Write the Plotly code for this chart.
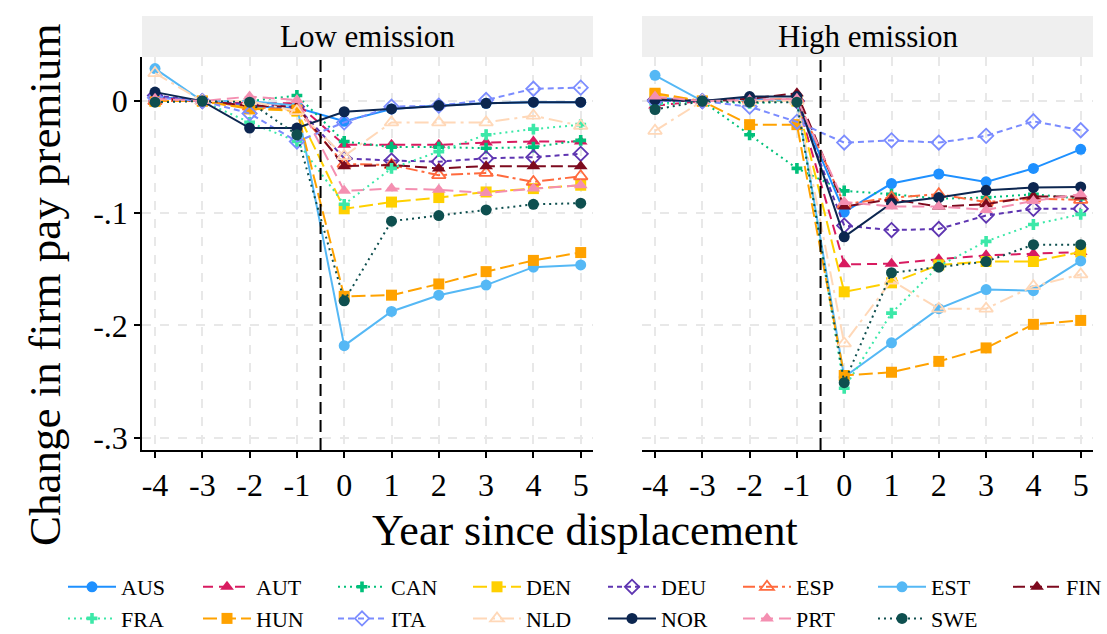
import plotly.graph_objects as go

# Event time (years since displacement)
years = [-4, -3, -2, -1, 0, 1, 2, 3, 4, 5]

countries = ["AUS", "AUT", "CAN", "DEN", "DEU", "ESP", "EST", "FIN",
             "FRA", "HUN", "ITA", "NLD", "NOR", "PRT", "SWE"]

# Change in firm pay premium, low-emission firms
low_AUS = [0.004, 0, -0.005, -0.006, -0.018, -0.007, -0.004, -0.002, -0.001, -0.001]
low_AUT = [0.003, 0, -0.002, -0.002, -0.039, -0.039, -0.039, -0.037, -0.036, -0.036]
low_CAN = [0.000, 0, 0.000, 0.005, -0.036, -0.041, -0.041, -0.042, -0.041, -0.035]
low_DEN = [0.000, 0, -0.006, -0.009, -0.096, -0.090, -0.086, -0.081, -0.078, -0.075]
low_DEU = [0.005, 0, -0.003, -0.005, -0.051, -0.053, -0.054, -0.051, -0.050, -0.047]
low_ESP = [0.000, 0, -0.005, -0.008, -0.056, -0.057, -0.066, -0.064, -0.072, -0.067]
low_EST = [0.029, 0, 0.000, -0.004, -0.218, -0.1875, -0.173, -0.164, -0.148, -0.146]
low_FIN = [0.002, 0, -0.004, -0.005, -0.058, -0.057, -0.060, -0.058, -0.058, -0.058]
low_FRA = [0.000, 0, -0.019, -0.036, -0.092, -0.060, -0.045, -0.030, -0.025, -0.021]
low_HUN = [0.000, 0, -0.007, -0.008, -0.174, -0.173, -0.163, -0.152, -0.142, -0.135]
low_ITA = [0.003, 0, -0.011, -0.036, -0.019, -0.005, -0.004, 0.001, 0.011, 0.012]
low_NLD = [0.025, 0, 0.000, -0.009, -0.049, -0.019, -0.019, -0.019, -0.013, -0.022]
low_NOR = [0.008, 0, -0.024, -0.024, -0.0095, -0.007, -0.004, -0.002, -0.001, -0.001]
low_PRT = [0.002, 0, 0.004, 0.001, -0.080, -0.078, -0.079, -0.082, -0.078, -0.075]
low_SWE = [-0.001, 0, -0.001, -0.030, -0.178, -0.107, -0.102, -0.097, -0.092, -0.091]

# Change in firm pay premium, high-emission firms
high_AUS = [0.003, 0, 0.002, 0.000, -0.099, -0.0735, -0.065, -0.072, -0.060, -0.043]
high_AUT = [-0.004, 0, 0.000, 0.001, -0.1455, -0.145, -0.141, -0.1375, -0.136, -0.1345]
high_CAN = [-0.002, 0, -0.030, -0.060, -0.080, -0.083, -0.087, -0.086, -0.083, -0.087]
high_DEN = [0.006, 0, 0.000, 0.000, -0.170, -0.162, -0.146, -0.143, -0.143, -0.1345]
high_DEU = [0.001, 0, 0.001, 0.000, -0.111, -0.115, -0.114, -0.102, -0.096, -0.096]
high_ESP = [0.002, 0, 0.001, 0.002, -0.092, -0.086, -0.083, -0.090, -0.087, -0.088]
high_EST = [0.023, 0, 0.001, 0.000, -0.246, -0.2155, -0.185, -0.168, -0.169, -0.1425]
high_FIN = [0.001, 0, 0.002, 0.007, -0.094, -0.0875, -0.094, -0.092, -0.085, -0.085]
high_FRA = [-0.003, 0, -0.002, 0.000, -0.256, -0.189, -0.147, -0.125, -0.110, -0.101]
high_HUN = [0.007, 0, -0.021, -0.021, -0.2446, -0.2417, -0.232, -0.220, -0.199, -0.1955]
high_ITA = [0.000, 0, -0.005, -0.0185, -0.037, -0.035, -0.037, -0.031, -0.018, -0.026]
high_NLD = [-0.0265, 0, 0.000, 0.000, -0.216, -0.160, -0.185, -0.185, -0.165, -0.1545]
high_NOR = [0.001, 0, 0.004, 0.004, -0.121, -0.091, -0.086, -0.0795, -0.077, -0.0765]
high_PRT = [0.004, 0, 0.001, 0.002, -0.090, -0.094, -0.094, -0.097, -0.089, -0.083]
high_SWE = [-0.0075, 0, -0.001, -0.001, -0.251, -0.153, -0.148, -0.143, -0.128, -0.128]

low = {"AUS": low_AUS, "AUT": low_AUT, "CAN": low_CAN, "DEN": low_DEN, "DEU": low_DEU,
       "ESP": low_ESP, "EST": low_EST, "FIN": low_FIN, "FRA": low_FRA, "HUN": low_HUN,
       "ITA": low_ITA, "NLD": low_NLD, "NOR": low_NOR, "PRT": low_PRT, "SWE": low_SWE}
high = {"AUS": high_AUS, "AUT": high_AUT, "CAN": high_CAN, "DEN": high_DEN, "DEU": high_DEU,
        "ESP": high_ESP, "EST": high_EST, "FIN": high_FIN, "FRA": high_FRA, "HUN": high_HUN,
        "ITA": high_ITA, "NLD": high_NLD, "NOR": high_NOR, "PRT": high_PRT, "SWE": high_SWE}

# Per-country styling: colour, dash pattern, marker symbol
style = {
    "AUS": ("#1E90FF", "solid", "circle"),
    "AUT": ("#D81B60", "10px,6px", "triangle-up"),
    "CAN": ("#00C07A", "2px,4px", "cross"),
    "DEN": ("#FFD000", "14px,5px", "square"),
    "DEU": ("#5E35B1", "5px,4px", "diamond-open"),
    "ESP": ("#FF6A3D", "12px,4px,3px,4px", "triangle-up-open"),
    "EST": ("#55B8F5", "solid", "circle"),
    "FIN": ("#7D0A1E", "12px,5px", "triangle-up"),
    "FRA": ("#3CE8A8", "2px,4px", "cross"),
    "HUN": ("#FFA200", "14px,5px", "square"),
    "ITA": ("#7B8CFF", "6px,4px", "diamond-open"),
    "NLD": ("#FFD8B8", "14px,5px,3px,5px", "triangle-up-open"),
    "NOR": ("#0C2650", "solid", "circle"),
    "PRT": ("#F48FB1", "12px,6px", "triangle-up"),
    "SWE": ("#0E4F4F", "2px,4px", "circle"),
}

FONT = "Liberation Serif"
W, H = 1107, 634
fig = go.Figure()

for panel, data, xa, ya in [("low", low, "x", "y"), ("high", high, "x2", "y2")]:
    for c in countries:
        col, dash, sym = style[c]
        if sym == "cross":
            size = 9
        elif sym.startswith("triangle"):
            size = 12
        else:
            size = 11
        fig.add_trace(go.Scatter(
            x=years, y=data[c], name=c, legendgroup=c,
            showlegend=(panel == "low"),
            mode="lines+markers", xaxis=xa, yaxis=ya,
            line=dict(color=col, width=2, dash=dash),
            marker=dict(color=col, symbol=sym, size=size,
                        line=dict(color=col, width=1.8 if "open" in sym else 0)),
        ))

xd1 = [142 / W, 593 / W]
xd2 = [642 / W, 1093 / W]
yd = [(H - 450) / H, (H - 57) / H]
xrange_ = [-4.275, 5.26]
yrange_ = [-0.311, 0.0393]

common_x = dict(range=xrange_, tickvals=years, ticktext=[str(v) for v in years],
                showline=True, linecolor="black", linewidth=1.5,
                ticks="outside", ticklen=6, tickwidth=1.5, tickcolor="black",
                showgrid=True, gridcolor="#E8E8E8", gridwidth=1.5, griddash="dash",
                zeroline=False, tickfont=dict(family=FONT, size=32, color="black"),
                automargin=False, fixedrange=True)
common_y = dict(range=yrange_, tickvals=[-0.3, -0.2, -0.1, 0],
                showgrid=True, gridcolor="#E8E8E8", gridwidth=1.5, griddash="dash",
                zeroline=False, automargin=False, fixedrange=True)

fig.update_layout(
    width=W, height=H,
    margin=dict(l=0, r=0, t=0, b=0, autoexpand=False),
    paper_bgcolor="white", plot_bgcolor="white",
    font=dict(family=FONT, color="black"),
    xaxis=dict(domain=xd1, anchor="y", **common_x),
    xaxis2=dict(domain=xd2, anchor="y2", **common_x),
    yaxis=dict(domain=yd, anchor="x", ticktext=["-.3", "-.2", "-.1", "0"],
               showline=True, linecolor="black", linewidth=1.5,
               ticks="outside", ticklen=6, tickwidth=1.5, tickcolor="black",
               tickfont=dict(family=FONT, size=32, color="black"), **common_y),
    yaxis2=dict(domain=yd, anchor="x2", showticklabels=False, showline=False,
                ticks="", **common_y),
    legend=dict(orientation="h", xref="container", yref="container",
                x=63 / W, xanchor="left",
                y=(H - 566) / H, yanchor="top",
                font=dict(family=FONT, size=22, color="black"),
                itemwidth=48, entrywidth=72, tracegroupgap=0,
                bgcolor="rgba(0,0,0,0)"),
    showlegend=True,
)

# Facet strips
for x0, x1, label in [(xd1[0], xd1[1], "Low emission"), (xd2[0], xd2[1], "High emission")]:
    fig.add_shape(type="rect", xref="paper", yref="paper",
                  x0=x0, x1=x1, y0=(H - 57) / H, y1=(H - 16) / H,
                  fillcolor="#EFEFEF", line=dict(width=0), layer="below")
    fig.add_annotation(xref="paper", yref="paper", x=(x0 + x1) / 2,
                       y=(H - 37) / H, text=label, showarrow=False,
                       font=dict(family=FONT, size=31, color="black"),
                       xanchor="center", yanchor="middle")

# Displacement marker between year -1 and year 0
for xr, yr in [("x", "y"), ("x2", "y2")]:
    fig.add_shape(type="line", xref=xr, yref=yr, x0=-0.5, x1=-0.5,
                  y0=yrange_[0], y1=yrange_[1],
                  line=dict(color="black", width=2, dash="12px,6px"))

# Axis titles
fig.add_annotation(xref="paper", yref="paper", x=45 / W, y=(H - 285) / H,
                   text="Change in firm pay premium", textangle=-90, showarrow=False,
                   font=dict(family=FONT, size=45, color="black"),
                   xanchor="center", yanchor="middle")
fig.add_annotation(xref="paper", yref="paper", x=585 / W, y=(H - 530) / H,
                   text="Year since displacement", showarrow=False,
                   font=dict(family=FONT, size=44, color="black"),
                   xanchor="center", yanchor="middle")

fig.write_html("out.html")
